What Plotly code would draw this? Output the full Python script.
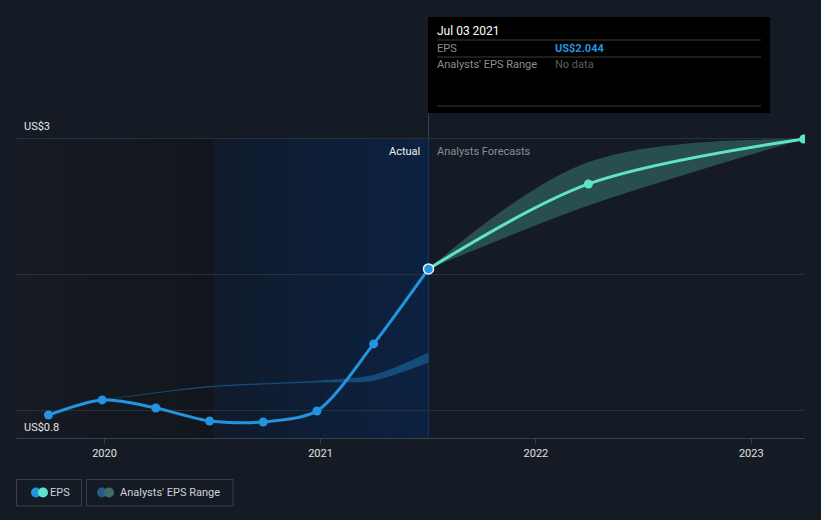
import plotly.graph_objects as go
import pandas as pd

# ---------------- data ----------------
eps_dates = ['2019-09-28', '2019-12-28', '2020-03-28', '2020-06-27',
             '2020-09-26', '2020-12-26', '2021-04-01', '2021-07-03']
eps_values = [0.969, 1.080, 1.021, 0.925, 0.918, 0.999, 1.492, 2.044]

fc_dates = ['2021-07-03', '2022-03-31', '2023-03-31']
fc_values = [2.044, 2.669, 3.0]
fc_low = [2.044, 2.51, 3.0]
fc_high = [2.044, 2.83, 3.0]

hist_dates = ['2019-12-28', '2020-06-27', '2020-12-26', '2021-04-01', '2021-07-03']
hist_low = [1.080, 1.172, 1.208, 1.222, 1.355]
hist_high = [1.080, 1.180, 1.220, 1.262, 1.425]

x_ticks = ['2020-01-01', '2021-01-01', '2022-01-01', '2023-01-01']
x_tick_text = ['2020', '2021', '2022', '2023']
y_grid = [1, 2, 3]

x_range = ['2019-08-04', '2023-04-02']
y_range = [0.8, 3.066]

BG = '#151b24'
BLUE = '#2394df'
TEAL = '#5fe3c8'
FS = 11

# pixel -> paper helpers
L, R, T, B = 16, 805, 130, 438
def px(x):
    return (x - L) / (R - L)
def py(y):
    return (B - y) / (B - T)

fig = go.Figure()

# historical analyst range (blue band)
fig.add_trace(go.Scatter(x=hist_dates, y=hist_low, mode='lines',
                         line=dict(width=0, shape='spline', smoothing=0.8),
                         hoverinfo='skip', showlegend=False))
fig.add_trace(go.Scatter(x=hist_dates, y=hist_high, mode='lines',
                         line=dict(width=0.5, color='rgba(35,148,223,0.35)', shape='spline', smoothing=0.8),
                         fill='tonexty', fillcolor='rgba(35,148,223,0.38)',
                         hoverinfo='skip', showlegend=False))

# forecast range (teal band)
fig.add_trace(go.Scatter(x=fc_dates, y=fc_low, mode='lines',
                         line=dict(width=0, shape='spline', smoothing=0.8),
                         hoverinfo='skip', showlegend=False))
fig.add_trace(go.Scatter(x=fc_dates, y=fc_high, mode='lines',
                         line=dict(width=0, shape='spline', smoothing=1.0),
                         fill='tonexty', fillcolor='rgba(88,212,190,0.28)',
                         hoverinfo='skip', showlegend=False))

# EPS actual
fig.add_trace(go.Scatter(x=eps_dates, y=eps_values, mode='lines+markers',
                         line=dict(color=BLUE, width=3, shape='spline', smoothing=0.8),
                         marker=dict(color=BLUE, size=9),
                         hoverinfo='skip', showlegend=False))

# EPS forecast
fig.add_trace(go.Scatter(x=fc_dates[1:], y=fc_values[1:], mode='markers',
                         marker=dict(color=TEAL, size=9),
                         hoverinfo='skip', showlegend=False))
fig.add_trace(go.Scatter(x=fc_dates, y=fc_values, mode='lines',
                         line=dict(color=TEAL, width=3, shape='spline', smoothing=0.9),
                         hoverinfo='skip', showlegend=False))

# highlighted hover point
fig.add_trace(go.Scatter(x=[eps_dates[-1]], y=[eps_values[-1]], mode='markers',
                         marker=dict(color=BLUE, size=10, line=dict(color='#e8f2ff', width=1.5)),
                         hoverinfo='skip', showlegend=False))

shapes = []

def lerp(c1, c2, t):
    return 'rgb(%d,%d,%d)' % tuple(round(a + (b - a) * t) for a, b in zip(c1, c2))

def gradient(start, end, c1, c2, n=24):
    s = pd.Timestamp(start)
    e = pd.Timestamp(end)
    edges = [s + (e - s) * i / n for i in range(n + 1)]
    for i in range(n):
        shapes.append(dict(type='rect', xref='x', yref='y', layer='below',
                           x0=edges[i], x1=edges[i + 1], y0=0.8, y1=3.0,
                           fillcolor=lerp(c1, c2, (i + 0.5) / n), line=dict(width=0)))

gradient(x_range[0], '2020-07-03', (22, 27, 36), (18, 22, 28))
gradient('2020-07-03', '2021-07-03', (16, 27, 44), (12, 34, 66))

# hover / divider line
shapes.append(dict(type='line', xref='x', yref='paper', x0='2021-07-03', x1='2021-07-03',
                   y0=0, y1=py(113), line=dict(color='rgba(70,100,140,0.55)', width=1), layer='below'))

# tooltip box
shapes.append(dict(type='rect', xref='paper', yref='paper', x0=px(428), x1=px(770),
                   y0=py(113), y1=py(17), fillcolor='#000000', line=dict(width=0), layer='above'))
for yy in (40, 57, 106):
    shapes.append(dict(type='line', xref='paper', yref='paper', x0=px(437), x1=px(761),
                       y0=py(yy), y1=py(yy), line=dict(color='#3d3d3d', width=1), layer='above'))

# legend buttons
for x0, x1 in ((16.5, 81.5), (86.5, 233)):
    shapes.append(dict(type='rect', xref='paper', yref='paper', x0=px(x0), x1=px(x1),
                       y0=py(506), y1=py(479.5), fillcolor='rgba(0,0,0,0)',
                       line=dict(color='#3a404a', width=1)))

def dot(cx, cy, r, color):
    shapes.append(dict(type='circle', xref='paper', yref='paper', xsizemode='pixel', ysizemode='pixel',
                       xanchor=px(cx), yanchor=py(cy), x0=-r, x1=r, y0=-r, y1=r,
                       fillcolor=color, line=dict(width=0)))

dot(36, 492.5, 5, BLUE)
dot(43, 492.5, 5, TEAL)
dot(102, 492.5, 5, '#2a5a86')
dot(109, 492.5, 5, '#3c6f6a')

annotations = []
def text(x, y, s, color, size=FS, anchor='left', bold=False):
    annotations.append(dict(xref='paper', yref='paper', x=px(x), y=py(y), text=('<b>%s</b>' % s) if bold else s,
                            showarrow=False, xanchor=anchor, yanchor='middle',
                            font=dict(color=color, size=size, family='Roboto')))

text(22, 127, 'US$3', '#e6e6e6')
text(22, 427, 'US$0.8', '#e6e6e6')
text(422, 151, 'Actual', '#f0f0f0', anchor='right')
text(435, 151, 'Analysts Forecasts', '#8a8f96')
text(435, 31, 'Jul 03 2021', '#ffffff', size=12)
text(435, 48, 'EPS', '#8e8e8e')
text(553, 48, 'US$2.044', BLUE, bold=True)
text(435, 65, "Analysts' EPS Range", '#8e8e8e')
text(553, 65, 'No data', '#5e5e5e')
text(48, 492.5, 'EPS', '#cfd2d6')
text(118, 492.5, "Analysts' EPS Range", '#cfd2d6')

fig.update_layout(
    width=821, height=520,
    margin=dict(l=L, r=821 - R, t=T, b=520 - B),
    paper_bgcolor=BG, plot_bgcolor=BG,
    showlegend=False,
    shapes=shapes, annotations=annotations,
    font=dict(family='Roboto', color='#dddddd', size=FS),
    xaxis=dict(type='date', range=x_range, tickvals=x_ticks, ticktext=x_tick_text,
               showgrid=False, zeroline=False, showline=True, linecolor='#3a404a', linewidth=1,
               ticks='outside', ticklen=5, tickcolor='#3a404a',
               tickfont=dict(color='#e0e0e0', size=FS, family='Roboto'), fixedrange=True),
    yaxis=dict(range=y_range, tickvals=y_grid, showticklabels=False, showgrid=True,
               gridcolor='#2a303a', gridwidth=1, zeroline=False, showline=False, fixedrange=True),
)

fig.write_html('out.html', config={'displayModeBar': False},
               post_script="document.body.style.margin='0';document.body.style.background='%s';" % BG)
